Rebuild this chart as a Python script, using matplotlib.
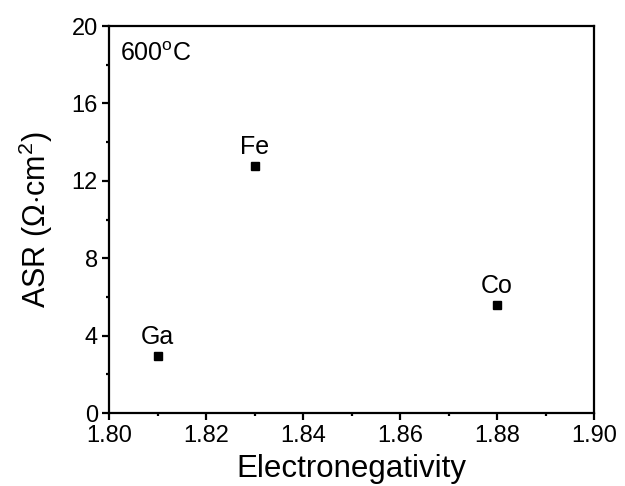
import matplotlib
matplotlib.use("Agg")
import matplotlib.pyplot as plt
from matplotlib.ticker import MultipleLocator

elements = ["Ga", "Fe", "Co"]
electroneg = [1.81, 1.83, 1.88]
asr = [2.95, 12.77, 5.58]
xticks = [1.80, 1.82, 1.84, 1.86, 1.88, 1.90]
yticks = [0, 4, 8, 12, 16, 20]

plt.rcParams['font.family'] = ['Liberation Sans', 'DejaVu Sans']
plt.rcParams['mathtext.fontset'] = 'custom'
plt.rcParams['mathtext.rm'] = 'Liberation Sans'

fig = plt.figure(figsize=(6.25, 4.86), dpi=100)
ax = fig.add_axes([109/625, 1-413/486, (594-109)/625, (413-26)/486])

ax.plot(electroneg, asr, 's', color='black', ms=5.5, ls='none')
for e, x, y in zip(elements, electroneg, asr):
    ax.annotate(e, (x, y), xytext=(0, 8.5), textcoords='offset points',
                ha='center', va='baseline', fontsize=18)

ax.set_xlim(1.80, 1.90)
ax.set_ylim(0, 20)
ax.set_xticks(xticks)
ax.set_xticklabels([f"{v:.2f}" for v in xticks])
ax.set_yticks(yticks)
ax.xaxis.set_minor_locator(MultipleLocator(0.01))
ax.yaxis.set_minor_locator(MultipleLocator(2))
ax.tick_params(which='major', direction='out', length=5, width=1.6, labelsize=17)
ax.tick_params(axis='x', which='major', pad=4)
ax.tick_params(axis='y', which='major', pad=3)
ax.tick_params(which='minor', direction='out', length=2.5, width=1.6)
for s in ax.spines.values():
    s.set_linewidth(1.6)

ax.set_xlabel("Electronegativity", fontsize=22.5, labelpad=5)
ax.set_ylabel(r"ASR ($\Omega$$\cdot$cm$^2$)", fontsize=22, labelpad=12)
ax.text(0.023, 0.958, r"600$^\mathrm{o}$C", transform=ax.transAxes,
        ha='left', va='top', fontsize=18)

fig.savefig("out.png", dpi=100)
